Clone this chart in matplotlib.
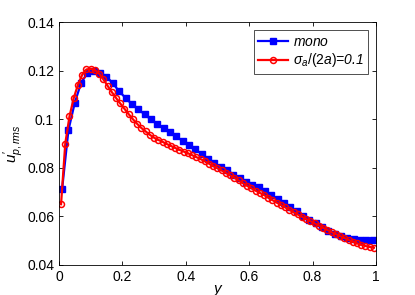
import numpy as np
import matplotlib
matplotlib.use('Agg')
import matplotlib.pyplot as plt

plt.rcParams['font.family'] = ['Liberation Sans', 'DejaVu Sans']
plt.rcParams['mathtext.fontset'] = 'custom'
plt.rcParams['mathtext.it'] = 'Liberation Sans:italic'
plt.rcParams['mathtext.rm'] = 'Liberation Sans'

# blue curve: mono (50 points)
y_mono = np.arange(0.01, 1.0, 0.02)
u_mono = [0.0712, 0.0955, 0.1068, 0.1150, 0.1190, 0.1199, 0.1192, 0.1175, 0.1148, 0.1115,
          0.1088, 0.1062, 0.1042, 0.1020, 0.1000, 0.0981, 0.0963, 0.0946, 0.0929, 0.0911,
          0.0894, 0.0876, 0.0857, 0.0836, 0.0818, 0.0805, 0.0790, 0.0772, 0.0757, 0.0742,
          0.0730, 0.0721, 0.0706, 0.0688, 0.0670, 0.0655, 0.0638, 0.0621, 0.0603, 0.0585,
          0.0571, 0.0555, 0.0541, 0.0528, 0.0519, 0.0511, 0.0506, 0.0504, 0.0503, 0.0503]

# red curve: sigma_a/(2a)=0.1 (75 points)
y_poly = (np.arange(75) + 0.5) / 75
u_poly = [0.0650, 0.0900, 0.1012, 0.1087, 0.1142, 0.1183, 0.1205, 0.1208, 0.1203, 0.1188,
          0.1165, 0.1138, 0.1112, 0.1088, 0.1065, 0.1043, 0.1021, 0.1000, 0.0981, 0.0964,
          0.0950, 0.0936, 0.0924, 0.0915, 0.0907, 0.0898, 0.0890, 0.0882, 0.0874, 0.0867,
          0.0860, 0.0852, 0.0844, 0.0836, 0.0827, 0.0817, 0.0807, 0.0798, 0.0789, 0.0779,
          0.0769, 0.0759, 0.0748, 0.0737, 0.0726, 0.0716, 0.0706, 0.0697, 0.0688, 0.0677,
          0.0667, 0.0657, 0.0647, 0.0637, 0.0627, 0.0617, 0.0608, 0.0598, 0.0589, 0.0580,
          0.0571, 0.0562, 0.0553, 0.0544, 0.0535, 0.0527, 0.0519, 0.0511, 0.0503, 0.0496,
          0.0489, 0.0483, 0.0478, 0.0474, 0.0471]

xticks = [0, 0.2, 0.4, 0.6, 0.8, 1]
xlabels = ['0', '0.2', '0.4', '0.6', '0.8', '1']
yticks = [0.04, 0.06, 0.08, 0.1, 0.12, 0.14]
ylabels = ['0.04', '0.06', '0.08', '0.1', '0.12', '0.14']

fig = plt.figure(figsize=(4.15, 2.95), dpi=100)
ax = fig.add_axes([0.142, 0.102, 0.764, 0.823])

ax.plot(y_mono, u_mono, '-s', color='blue', lw=1.6, ms=3.8, mfc='blue', mec='blue',
        label=r'$mono$')
ax.plot(y_poly, u_poly, '-o', color='red', lw=1.6, ms=4.3, mfc='none', mec='red', mew=1.1,
        label=r'$\sigma_a/(2a)$=0.1')

ax.set_xlim(0, 1)
ax.set_ylim(0.04, 0.14)
ax.set_xticks(xticks)
ax.set_xticklabels(xlabels)
ax.set_yticks(yticks)
ax.set_yticklabels(ylabels)
ax.tick_params(direction='in', top=True, right=True, labelsize=10, length=3, width=0.6)
for s in ax.spines.values():
    s.set_linewidth(0.6)

ax.set_xlabel('y', fontsize=11, style='italic')
ax.xaxis.set_label_coords(0.5, -0.07)
ax.set_ylabel(r"$u^{\prime}_{p,rms}$", fontsize=11)
ax.yaxis.set_label_coords(-0.105, 0.5)

leg = ax.legend(loc='upper right', fontsize=10, frameon=True, fancybox=False,
                edgecolor='black', handlelength=2.2, borderaxespad=0.6,
                labelspacing=0.2, handletextpad=0.3, borderpad=0.3)
leg.get_frame().set_linewidth(0.6)
for t in leg.get_texts():
    t.set_fontstyle('italic')

fig.savefig('out.png', dpi=100)
